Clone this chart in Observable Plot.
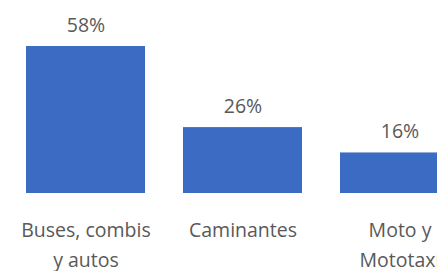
<!DOCTYPE html>
<html>
<head>
<meta charset="utf-8">
<script src="https://cdn.jsdelivr.net/npm/d3@7"></script>
<script src="https://cdn.jsdelivr.net/npm/@observablehq/plot@0.6"></script>
<style>
  html, body { margin: 0; padding: 0; background: #fff; overflow: hidden; }
  svg { overflow: hidden; }
</style>
</head>
<body>
<div id="chart"></div>
<script>
const categories = ["Buses, combis\ny autos", "Caminantes", "Moto y\nMototaxi"];
const values = [58, 26, 16];
const valueLabels = ["58%", "26%", "16%"];

const data = categories.map((c, i) => ({category: c, value: values[i], label: valueLabels[i]}));

const font = "'Open Sans', 'Segoe UI', sans-serif";
const chart = Plot.plot({
  width: 437,
  height: 271,
  marginTop: 46,
  marginBottom: 78,
  marginLeft: 0,
  marginRight: 0,
  style: {fontFamily: font, background: "#fff", overflow: "hidden"},
  x: {domain: categories, range: [7, 478], paddingInner: 0.242, paddingOuter: 0.121, axis: null},
  y: {domain: [0, 58], axis: null},
  marks: [
    Plot.barY(data, {x: "category", y: "value", fill: "#3B6BC2"}),
    Plot.text(data, {x: "category", y: "value", text: "label", dy: -15, lineAnchor: "bottom", fontSize: 19.5, fill: "#595959"}),
    Plot.axisX({domain: categories, label: null, tickSize: 0, tickPadding: 22, fontSize: 19.5, lineHeight: 1.54, fill: "#595959", tickFormat: d => d, textOverflow: null})
  ]
});
document.getElementById("chart").appendChild(chart);
</script>
</body>
</html>
